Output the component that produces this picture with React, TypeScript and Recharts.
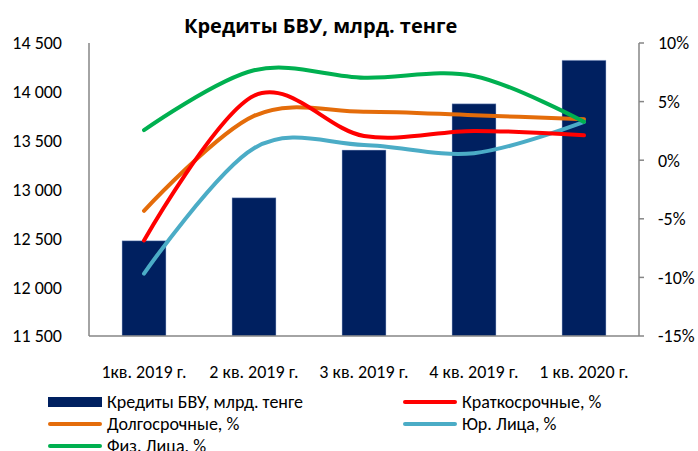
import React from 'react';
import { ComposedChart, Bar, Line, XAxis, YAxis, Legend } from 'recharts';

const categories = ['1кв. 2019 г.', '2 кв. 2019 г.', '3 кв. 2019 г.', '4 кв. 2019 г.', '1 кв. 2020 г.'];
const credits = [12476, 12916, 13404, 13878, 14323];
const shortTerm = [-6.85, 5.5, 2.07, 2.5, 2.12];
const longTerm = [-4.32, 3.78, 4.14, 3.84, 3.5];
const legalEntities = [-9.67, 1.02, 1.3, 0.6, 3.27];
const individuals = [2.56, 7.67, 7.04, 7.19, 3.27];
const leftTicks = [11500, 12000, 12500, 13000, 13500, 14000, 14500];
const rightTicks = [-15, -10, -5, 0, 5, 10];

const data = categories.map((c, i) => ({
  name: c,
  credits: credits[i],
  shortTerm: shortTerm[i],
  longTerm: longTerm[i],
  legal: legalEntities[i],
  indiv: individuals[i],
}));

const FONT = "Carlito, 'Liberation Sans Narrow', sans-serif";

// Catmull-Rom style smoothing (like Excel smoothed lines)
const smoothCurve = (context: any) => {
  const k = 1 / 6;
  let x0 = NaN, x1 = NaN, x2 = NaN, y0 = NaN, y1 = NaN, y2 = NaN;
  let pt = 0;
  let line = NaN;
  const seg = (x: number, y: number) => {
    context.bezierCurveTo(
      x1 + k * (x2 - x0), y1 + k * (y2 - y0),
      x2 + k * (x1 - x), y2 + k * (y1 - y),
      x2, y2
    );
  };
  return {
    areaStart() { line = 0; },
    areaEnd() { line = NaN; },
    lineStart() { x0 = x1 = x2 = y0 = y1 = y2 = NaN; pt = 0; },
    lineEnd() {
      if (pt === 2) context.lineTo(x2, y2);
      else if (pt === 3) seg(x1, y1);
      line = 1 - line;
    },
    point(x: number, y: number) {
      x = +x; y = +y;
      switch (pt) {
        case 0: pt = 1; line ? context.lineTo(x, y) : context.moveTo(x, y); break;
        case 1: pt = 2; x1 = x; y1 = y; break;
        case 2: pt = 3; seg(x, y); break;
        default: seg(x, y); break;
      }
      x0 = x1; x1 = x2; x2 = x;
      y0 = y1; y1 = y2; y2 = y;
    },
  };
};

const legendItems = [
  { label: 'Кредиты БВУ, млрд. тенге', color: '#002060', kind: 'rect', col: 0, row: 0 },
  { label: 'Краткосрочные, %', color: '#FF0000', kind: 'line', col: 1, row: 0 },
  { label: 'Долгосрочные, %', color: '#E46C0A', kind: 'line', col: 0, row: 1 },
  { label: 'Юр. Лица, %', color: '#4BACC6', kind: 'line', col: 1, row: 1 },
  { label: 'Физ. Лица, %', color: '#00B050', kind: 'line', col: 0, row: 2 },
];

const renderLegend = () => (
  <div style={{ position: 'relative', width: 698, height: 65, fontFamily: FONT, fontSize: 18, color: '#000' }}>
    {legendItems.map((it) => {
      const left = it.col === 0 ? 48 : 403;
      const top = 16 + it.row * 22;
      return (
        <div key={it.label} style={{ position: 'absolute', left, top: top - 11, height: 22, display: 'flex', alignItems: 'center', whiteSpace: 'nowrap', lineHeight: '22px' }}>
          {it.kind === 'rect' ? (
            <div style={{ width: 54, height: 10, background: it.color }} />
          ) : (
            <div style={{ width: 54, height: 4, background: it.color, borderRadius: 2 }} />
          )}
          <span style={{ marginLeft: 5 }}>{it.label}</span>
        </div>
      );
    })}
  </div>
);

const fmtLeft = (v: number) => {
  const s = String(v);
  return s.length > 3 ? s.slice(0, s.length - 3) + ' ' + s.slice(s.length - 3) : s;
};
const fmtRight = (v: number) => `${v}%`;

export default function App() {
  return (
    <div style={{ position: 'absolute', left: 0, top: 0, width: 698, height: 451, background: '#fff', fontFamily: FONT, overflow: 'hidden' }}>
      <div style={{ position: 'absolute', left: 184, top: 12, whiteSpace: 'nowrap', fontWeight: 'bold', fontSize: 20, fontFamily: "'Open Sans', sans-serif", color: '#000', lineHeight: '28px' }}>
        Кредиты БВУ, млрд. тенге
      </div>
      <ComposedChart
        width={698}
        height={451}
        data={data}
        margin={{ top: 43, right: 0, bottom: 0, left: 0 }}
      >
        <XAxis
          dataKey="name"
          axisLine={{ stroke: '#868686', strokeWidth: 1.5 }}
          tickLine={false}
          tickSize={0}
          tickMargin={29}
          height={50}
          interval={0}
          tick={{ fill: '#000', fontSize: 18, fontFamily: FONT }}
        />
        <YAxis
          yAxisId="left"
          orientation="left"
          domain={[11500, 14500]}
          ticks={leftTicks}
          tickFormatter={fmtLeft}
          width={89}
          axisLine={{ stroke: '#868686', strokeWidth: 1.5 }}
          tickLine={false}
          tickSize={0}
          tickMargin={27}
          allowDataOverflow
          tick={{ fill: '#000', fontSize: 18, fontFamily: FONT }}
        />
        <YAxis
          yAxisId="right"
          orientation="right"
          domain={[-15, 10]}
          ticks={rightTicks}
          tickFormatter={fmtRight}
          width={59}
          axisLine={{ stroke: '#868686', strokeWidth: 1.5 }}
          tickLine={{ stroke: '#868686', strokeWidth: 1.5 }}
          tickSize={5}
          tickMargin={14}
          allowDataOverflow
          tick={{ fill: '#000', fontSize: 18, fontFamily: FONT, textAnchor: 'start' }}
        />
        <Legend verticalAlign="bottom" height={65} content={renderLegend} />
        <Bar yAxisId="left" dataKey="credits" barSize={44} fill="#002060" stroke="#B4C7E7" strokeWidth={0.5} isAnimationActive={false} legendType="rect" />
        <Line yAxisId="right" dataKey="longTerm" type={smoothCurve as any} stroke="#E46C0A" strokeWidth={4} strokeLinecap="round" dot={false} activeDot={false} isAnimationActive={false} />
        <Line yAxisId="right" dataKey="legal" type={smoothCurve as any} stroke="#4BACC6" strokeWidth={4} strokeLinecap="round" dot={false} activeDot={false} isAnimationActive={false} />
        <Line yAxisId="right" dataKey="shortTerm" type={smoothCurve as any} stroke="#FF0000" strokeWidth={4} strokeLinecap="round" dot={false} activeDot={false} isAnimationActive={false} />
        <Line yAxisId="right" dataKey="indiv" type={smoothCurve as any} stroke="#00B050" strokeWidth={4} strokeLinecap="round" dot={false} activeDot={false} isAnimationActive={false} />
      </ComposedChart>
    </div>
  );
}
